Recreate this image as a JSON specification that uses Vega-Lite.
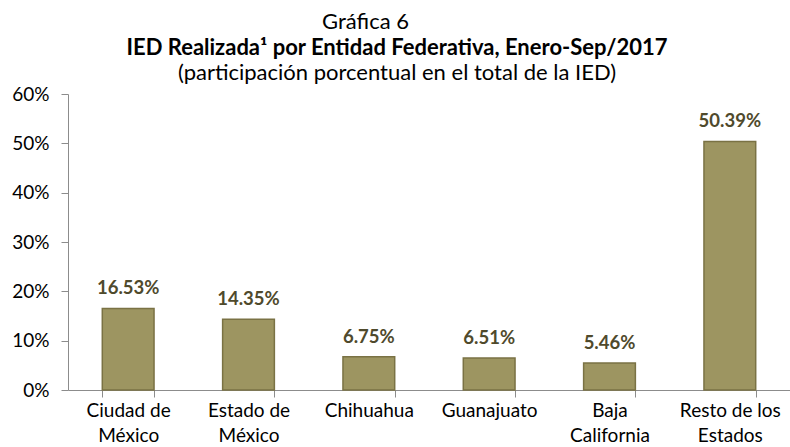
{
  "$schema": "https://vega.github.io/schema/vega-lite/v6.json",
  "padding": {"left": 5, "top": 11, "right": 0, "bottom": 0},
  "background": "white",
  "title": {"text": "Gráfica 6", "font": "Lato", "fontSize": 22, "fontWeight": "normal", "color": "#000000", "anchor": "middle", "dx": -32, "offset": 3},
  "config": {"view": {"stroke": null}, "concat": {"spacing": 0}},
  "vconcat": [
    {
      "width": 722,
      "height": 296,
      "title": {"text": "IED Realizada¹ por Entidad Federativa, Enero-Sep/2017", "subtitle": "(participación porcentual en el total de la IED)", "font": "Lato", "fontSize": 22, "fontWeight": "bold", "subtitleFont": "Lato", "subtitleFontSize": 22, "subtitleColor": "#000000", "color": "#000000", "anchor": "middle", "dx": -32, "offset": 0, "subtitlePadding": 3},
      "data": {"values": [
        {"entidad": "Ciudad de México", "valor": 0.1653},
        {"entidad": "Estado de México", "valor": 0.1435},
        {"entidad": "Chihuahua", "valor": 0.0675},
        {"entidad": "Guanajuato", "valor": 0.0651},
        {"entidad": "Baja California", "valor": 0.0546},
        {"entidad": "Resto de los Estados", "valor": 0.5039}
      ]},
      "encoding": {
        "x": {"field": "entidad", "type": "nominal", "sort": null,
          "scale": {"paddingInner": 0.57, "paddingOuter": 0.285},
          "axis": {"title": null, "labelAngle": 0, "tickBand": "extent", "domainColor": "#8c8c8c", "tickColor": "#8c8c8c", "tickSize": 7, "labelFont": "Lato", "labelFontSize": 19, "labelColor": "#000000", "labelPadding": 4, "labelLineHeight": 25,
            "labelExpr": "datum.value == 'Ciudad de México' ? ['Ciudad de', 'México'] : datum.value == 'Estado de México' ? ['Estado de', 'México'] : datum.value == 'Baja California' ? ['Baja', 'California'] : datum.value == 'Resto de los Estados' ? ['Resto de los', 'Estados'] : datum.value"}},
        "y": {"field": "valor", "type": "quantitative",
          "scale": {"domain": [0, 0.6], "nice": false},
          "axis": {"title": null, "format": ".0%", "values": [0, 0.1, 0.2, 0.3, 0.4, 0.5, 0.6], "grid": false, "domainColor": "#8c8c8c", "tickColor": "#8c8c8c", "tickSize": 7, "labelPadding": 12, "labelFont": "Lato", "labelFontSize": 19, "labelColor": "#000000", "minExtent": 63, "maxExtent": 63}}
      },
      "layer": [
        {"mark": {"type": "bar", "fill": "#9d9561", "stroke": "#7a7244", "strokeWidth": 1.5}},
        {"mark": {"type": "text", "dy": -20, "font": "Lato", "fontSize": 18.5, "fontWeight": "bold", "color": "#4f4a2c"},
          "encoding": {"text": {"field": "valor", "type": "quantitative", "format": ".2%"}}}
      ]
    }
  ]
}
